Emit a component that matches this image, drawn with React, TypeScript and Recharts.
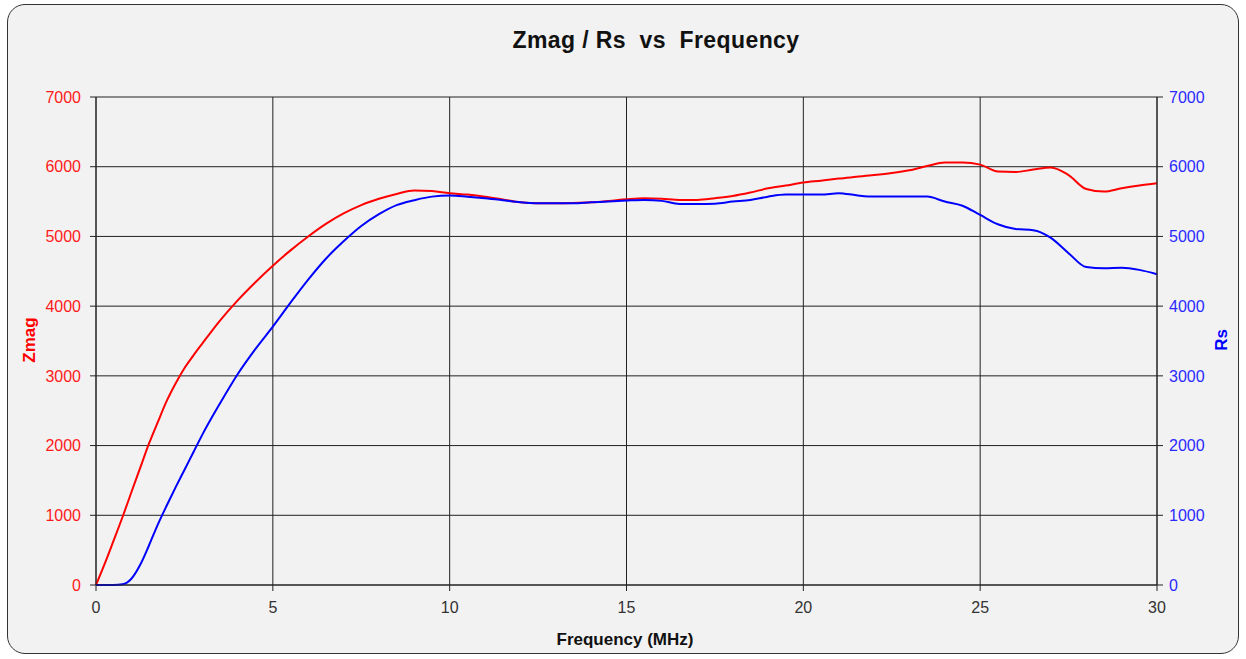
import React from 'react';
import { LineChart, Line, XAxis, YAxis, CartesianGrid } from 'recharts';

const freqMHz = [0, 0.25, 0.5, 0.75, 1, 1.25, 1.5, 1.75, 2, 2.25, 2.5, 2.75, 3, 3.5, 4, 4.5, 5, 5.5, 6, 6.5, 7, 7.5, 8, 8.5, 9, 9.5, 10, 10.5, 11, 11.5, 12, 12.5, 13, 13.5, 14, 14.5, 15, 15.5, 16, 16.5, 17, 17.5, 18, 18.5, 19, 19.5, 20, 20.5, 21, 21.5, 22, 22.5, 23, 23.5, 24, 24.5, 25, 25.5, 26, 26.5, 27, 27.5, 28, 28.5, 29, 29.5, 30];

const zmag = [0, 310, 640, 975, 1330, 1680, 2030, 2340, 2640, 2890, 3110, 3290, 3460, 3790, 4080, 4340, 4580, 4800, 5000, 5180, 5330, 5450, 5540, 5610, 5660, 5650, 5620, 5600, 5570, 5530, 5490, 5476, 5476, 5480, 5490, 5510, 5533, 5548, 5540, 5524, 5524, 5548, 5580, 5630, 5690, 5730, 5772, 5800, 5830, 5855, 5880, 5910, 5950, 6010, 6060, 6060, 6030, 5930, 5923, 5960, 5990, 5880, 5680, 5643, 5690, 5730, 5763];

const rs = [0, 0, 0, 10, 90, 290, 570, 870, 1140, 1400, 1650, 1900, 2150, 2600, 3020, 3380, 3706, 4050, 4380, 4680, 4930, 5150, 5320, 5450, 5520, 5571, 5586, 5570, 5548, 5520, 5490, 5476, 5476, 5476, 5490, 5500, 5514, 5524, 5510, 5466, 5466, 5470, 5500, 5524, 5570, 5600, 5600, 5600, 5620, 5590, 5571, 5571, 5571, 5571, 5500, 5440, 5308, 5175, 5107, 5090, 4980, 4760, 4560, 4543, 4550, 4520, 4458];

const xTicks = [0, 5, 10, 15, 20, 25, 30];
const yTicks = [0, 1000, 2000, 3000, 4000, 5000, 6000, 7000];

const title = 'Zmag / Rs  vs  Frequency';
const xLabel = 'Frequency (MHz)';
const leftLabel = 'Zmag';
const rightLabel = 'Rs';

const data = freqMHz.map((f, i) => ({ f, zmag: zmag[i], rs: rs[i] }));

const FONT = '"Liberation Sans", Arial, sans-serif';

export default function App() {
  return (
    <div style={{ position: 'absolute', left: 0, top: 0, width: 1246, height: 659, background: '#ffffff', overflow: 'hidden' }}>
      <div
        style={{
          position: 'absolute',
          left: 7,
          top: 4,
          width: 1232,
          height: 650,
          border: '1.5px solid #333',
          borderRadius: 18,
          background: '#f2f2f2',
          boxSizing: 'border-box',
        }}
      />
      <div style={{ position: 'absolute', left: 0, top: 0 }}>
        <LineChart
          width={1246}
          height={659}
          data={data}
          margin={{ top: 97, right: 29, left: 36, bottom: 34 }}
          style={{ fontFamily: FONT }}
        >
          <CartesianGrid xAxisId="x" yAxisId="left" stroke="#222222" strokeWidth={1} />
          <XAxis
            xAxisId="x"
            dataKey="f"
            type="number"
            domain={[0, 30]}
            ticks={xTicks}
            height={40}
            tickSize={6}
            tickMargin={11}
            stroke="#222222"
            tick={{ fill: '#333333', fontSize: 16, fontFamily: FONT }}
            interval={0}
          />
          <YAxis
            yAxisId="left"
            orientation="left"
            domain={[0, 7000]}
            ticks={yTicks}
            width={60}
            tickSize={6}
            tickMargin={9}
            stroke="#222222"
            tick={{ fill: '#ff1a1a', fontSize: 16, fontFamily: FONT }}
            interval={0}
          />
          <YAxis
            yAxisId="right"
            orientation="right"
            domain={[0, 7000]}
            ticks={yTicks}
            width={60}
            tickSize={6}
            tickMargin={6}
            stroke="#222222"
            tick={{ fill: '#2a2aff', fontSize: 16, fontFamily: FONT }}
            interval={0}
          />
          <Line
            xAxisId="x"
            yAxisId="left"
            dataKey="zmag"
            type="monotone"
            stroke="#ff0000"
            strokeWidth={2}
            dot={false}
            isAnimationActive={false}
          />
          <Line
            xAxisId="x"
            yAxisId="right"
            dataKey="rs"
            type="monotone"
            stroke="#0000ff"
            strokeWidth={2}
            dot={false}
            isAnimationActive={false}
          />
        </LineChart>
      </div>
      <svg width={1246} height={659} style={{ position: 'absolute', left: 0, top: 0, pointerEvents: 'none' }}>
        <text x={656} y={48} textAnchor="middle" fontFamily={FONT} fontWeight="bold" fontSize={23} letterSpacing={0.4} fill="#111" style={{ whiteSpace: 'pre' }}>
          {title}
        </text>
        <text x={625} y={645} textAnchor="middle" fontFamily={FONT} fontWeight="bold" fontSize={17} fill="#111">
          {xLabel}
        </text>
        <text transform="translate(35,340) rotate(-90)" textAnchor="middle" fontFamily={FONT} fontWeight="bold" fontSize={17} fill="#ff0000">
          {leftLabel}
        </text>
        <text transform="translate(1227,340) rotate(-90)" textAnchor="middle" fontFamily={FONT} fontWeight="bold" fontSize={17} fill="#0000ff">
          {rightLabel}
        </text>
      </svg>
    </div>
  );
}
